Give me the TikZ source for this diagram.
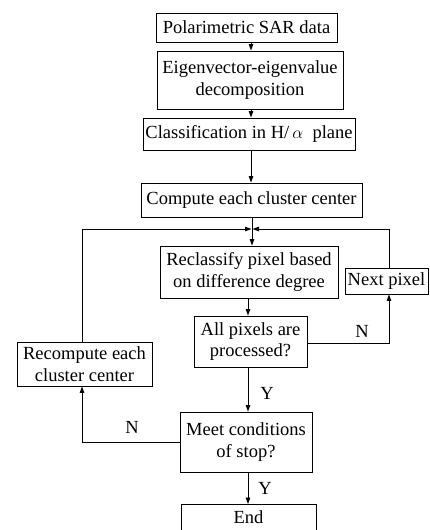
\documentclass[tikz,border=0pt]{standalone}
\usepackage{fontspec}
\setmainfont{Liberation Serif}
\usetikzlibrary{arrows.meta}
\tikzset{
  box/.style={draw, line width=0.9pt, inner sep=0pt, align=center, font=\fontsize{18.5}{21.5}\selectfont},
  arr/.style={line width=0.9pt, -{Stealth[length=6.5pt,width=4.5pt,inset=0pt]}},
  ln/.style={line width=0.9pt},
  lbl/.style={font=\fontsize{18.5}{21.5}\selectfont, inner sep=0pt}
}
\begin{document}
\begin{tikzpicture}[x=1pt,y=-1pt]
\clip (0,0) rectangle (430,530);
\fill[white] (0,0) rectangle (430,530);
\node[box, minimum width=181pt, minimum height=29pt] (b1) at (246.5,27.5) {Polarimetric SAR data};
\node[box, minimum width=186pt, minimum height=58pt] (b2) at (250,80) {Eigenvector-eigenvalue\\decomposition};
\node[box, minimum width=212pt, minimum height=32pt] (b3) at (249,134) {Classification in H/\,$\alpha$\ \ plane};
\node[box, minimum width=221pt, minimum height=34pt] (b4) at (251.5,200) {Compute each cluster center};
\node[box, minimum width=178pt, minimum height=52pt] (b5) at (249,272) {Reclassify pixel based\\on difference degree};
\node[box, minimum width=83pt, minimum height=26pt] (nx) at (386.5,281) {Next pixel};
\node[box, minimum width=113pt, minimum height=51pt] (b6) at (250.5,341.5) {All pixels are\\processed?};
\node[box, minimum width=135pt, minimum height=44pt] (rc) at (84.5,364) {Recompute each\\cluster center};
\node[box, minimum width=132pt, minimum height=60pt] (b7) at (246,442) {Meet conditions\\of stop?};
\node[box, minimum width=135pt, minimum height=52pt, anchor=north] (en) at (248.5,504) {End\\[-2pt]\strut};

\coordinate (sp) at (251,0);
\coordinate (sq) at (248,0);
\coordinate (j) at (252,229);
\coordinate (lx) at (82,0);
\coordinate (rx) at (389,0);

\draw[arr] (b1.south -| sp) -- (b2.north -| sp);
\draw[arr] (b2.south -| sp) -- (b3.north -| sp);
\draw[arr] (b3.south -| sp) -- (b4.north -| sp);
\draw[arr] (b4.south -| j) -- (b5.north -| j);
\draw[arr] (b5.south -| sq) -- (b6.north -| sq);
\draw[arr] (b6.south -| sq) -- (b7.north -| sq);
\draw[arr] (b7.south -| sq) -- (en.north -| sq);

\draw[ln] (rc.north -| lx) -- (j -| lx);
\draw[arr] (j -| lx) -- ([xshift=-0.5pt]j);
\draw[ln] (nx.north -| rx) -- (j -| rx);
\draw[arr] (j -| rx) -- ([xshift=0.5pt]j);

\draw[arr] (b6.east |- 0,343) -| (nx.south -| rx);
\draw[arr] (b7.west |- 0,442) -| (rc.south -| lx);

\node[lbl] (n1) at (362,331) {N};
\node[lbl] (y1) at (267,393) {Y};
\node[lbl] (n2) at (132,427) {N};
\node[lbl] (y2) at (265,488) {Y};
\end{tikzpicture}
\end{document}
